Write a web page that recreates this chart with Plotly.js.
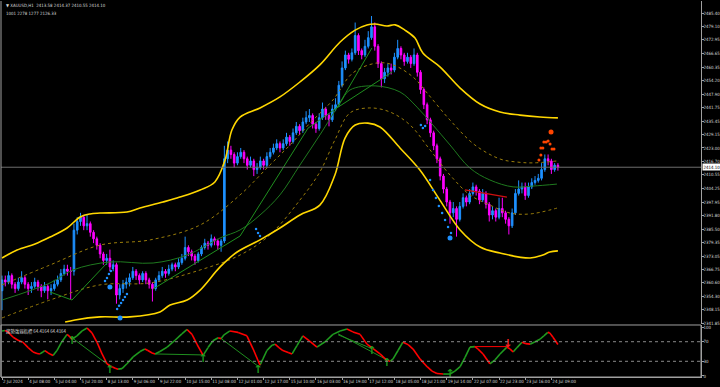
<!DOCTYPE html>
<html>
<head>
<meta charset="utf-8">
<script src="https://cdn.plot.ly/plotly-3.0.1.min.js"></script>
<style>
html,body{margin:0;padding:0;background:#000;}
#chart{width:720px;height:387px;}
</style>
</head>
<body>
<div id="chart"></div>
<script>
// ---------- DATA (H1 XAUUSD, one candle per 2 hours) ----------
const opens = [2357,2362,2361,2364,2360,2358,2361,2363,2360,2358,2359,2361,2359,2357,2359,2357,2358,2360,2362,2365,2367,2366,2366,2385,2389,2391,2387,2388,2384,2381,2378,2374,2371,2372,2368,2369,2355,2358,2360,2361,2363,2366,2364,2362,2365,2362,2360,2358,2362,2364,2366,2365,2367,2369,2368,2370,2372,2377,2375,2373,2371,2374,2377,2379,2378,2381,2380,2378,2380,2418,2422,2420,2416,2419,2421,2418,2415,2417,2413,2414,2417,2415,2419,2421,2423,2425,2423,2425,2428,2426,2430,2433,2431,2435,2437,2438,2434,2432,2437,2441,2438,2436,2441,2443,2452,2460,2466,2464,2467,2475,2468,2466,2470,2474,2479,2470,2462,2455,2458,2460,2459,2465,2469,2466,2463,2465,2462,2466,2458,2450,2443,2436,2430,2424,2418,2410,2404,2398,2393,2395,2390,2396,2400,2398,2402,2405,2403,2399,2402,2397,2392,2394,2391,2395,2393,2390,2387,2393,2402,2404,2405,2401,2405,2407,2408,2409,2413,2418,2417,2413,2415];
const highs = [2364,2364,2366,2365,2361,2363,2366,2364,2361,2361,2363,2362,2360,2361,2360,2360,2362,2364,2367,2369,2369,2368,2388,2391,2393,2392,2392,2389,2385,2382,2379,2375,2374,2376,2371,2370,2360,2362,2363,2365,2368,2367,2365,2366,2366,2363,2361,2363,2366,2368,2367,2369,2370,2370,2372,2374,2382,2378,2376,2374,2375,2378,2381,2380,2383,2382,2381,2381,2424,2426,2424,2421,2421,2423,2422,2419,2419,2418,2416,2419,2418,2421,2423,2425,2427,2426,2427,2430,2429,2432,2435,2434,2437,2440,2441,2439,2435,2439,2444,2442,2439,2443,2446,2454,2463,2468,2467,2469,2481,2476,2469,2473,2477,2484,2481,2471,2463,2460,2462,2462,2467,2473,2470,2467,2467,2466,2469,2467,2459,2451,2444,2437,2431,2425,2419,2411,2405,2399,2398,2396,2398,2402,2401,2404,2407,2406,2404,2404,2403,2398,2396,2395,2400,2400,2394,2391,2395,2404,2408,2407,2407,2407,2409,2410,2411,2416,2420,2420,2418,2416,2416];
const lows = [2348,2359,2360,2358,2356,2357,2360,2358,2355,2356,2358,2357,2354,2356,2353,2355,2357,2359,2361,2364,2364,2353,2364,2383,2387,2385,2385,2382,2379,2376,2372,2369,2369,2366,2366,2351,2353,2356,2358,2359,2362,2362,2360,2361,2360,2358,2352,2357,2361,2363,2363,2364,2366,2366,2367,2369,2371,2373,2371,2369,2370,2373,2376,2376,2377,2378,2376,2375,2379,2416,2418,2414,2415,2418,2416,2413,2414,2410,2411,2413,2413,2414,2418,2420,2422,2421,2422,2424,2424,2425,2429,2429,2430,2434,2435,2432,2430,2431,2436,2436,2433,2435,2440,2442,2451,2459,2462,2463,2466,2466,2464,2465,2469,2473,2468,2460,2451,2453,2456,2457,2458,2464,2464,2461,2462,2460,2461,2456,2448,2441,2434,2428,2422,2416,2408,2402,2396,2388,2391,2382,2389,2395,2396,2397,2401,2401,2397,2398,2395,2389,2390,2389,2390,2391,2388,2383,2386,2392,2401,2402,2399,2400,2404,2406,2407,2408,2412,2415,2411,2412,2412.5];
const closes = [2362,2361,2364,2360,2358,2361,2363,2360,2358,2359,2361,2359,2357,2359,2357,2358,2360,2362,2365,2367,2366,2366,2385,2389,2391,2387,2388,2384,2381,2378,2374,2371,2372,2368,2369,2355,2358,2360,2361,2363,2366,2364,2362,2365,2362,2360,2358,2362,2364,2366,2365,2367,2369,2368,2370,2372,2377,2375,2373,2371,2374,2377,2379,2378,2381,2380,2378,2380,2418,2422,2420,2416,2419,2421,2418,2415,2417,2413,2414,2417,2415,2419,2421,2423,2425,2423,2425,2428,2426,2430,2433,2431,2435,2437,2438,2434,2432,2437,2441,2438,2436,2441,2443,2452,2460,2466,2464,2467,2475,2468,2466,2470,2474,2479,2470,2462,2455,2458,2460,2459,2465,2469,2466,2463,2465,2462,2466,2458,2450,2443,2436,2430,2424,2418,2410,2404,2398,2393,2395,2390,2396,2400,2398,2402,2405,2403,2399,2402,2397,2392,2394,2391,2395,2393,2390,2387,2393,2402,2404,2405,2401,2405,2407,2408,2409,2413,2418,2417,2413,2415,2414.10];

// channel lines (x in candle index units)
const upperBandX = [0,4.6,10.1,14.7,19.9,23.9,26.9,30.0,38.2,42.2,49.2,54.4,60.6,65.1,68.2,70.3,72.8,78.9,85.0,91.1,97.2,103.4,108.0,111.6,114.1,117.7,120.2,123.2,126.3,128.7,134.0,140.1,146.2,152.3,158.4,164.5,170];
const upperBandY = [2372.1,2375.8,2378.6,2381.8,2386.0,2391.1,2392.5,2392.9,2393.4,2395.2,2398.0,2400.3,2403.6,2407.3,2417.4,2431.3,2437.3,2441.5,2446.6,2453.5,2461.4,2472.0,2477.5,2479.9,2480.3,2479.4,2479.9,2477.5,2473.8,2466.9,2460.4,2450.7,2443.3,2439.6,2438.2,2437.3,2436.9];
const lowerBandX = [19.3,22.3,30.0,39.1,48.3,51.4,56.6,60.6,66.7,71.9,78.9,85.0,91.1,97.2,101.8,104.9,108.0,111.9,115.6,121.7,127.8,133.9,140.1,146.2,152.3,161.5,165.4,167.5,170];
const lowerBandY = [2342.5,2343.5,2344.9,2344.9,2347.2,2350.4,2352.7,2357.3,2368.0,2374.9,2380.5,2386.0,2392.0,2396.6,2410.5,2427.6,2433.6,2434.5,2432.7,2423.0,2412.8,2398.9,2385.1,2377.2,2374.4,2372.1,2373.5,2374.9,2375.4];
const upperDotX = [0,14.7,30.0,45.3,60.6,72.8,81.9,88.1,94.2,101.2,107.3,114.7,119.6,125.7,130.0,137.0,144.6,152.3,157.5,162.4,169.7];
const upperDotY = [2359.7,2368.9,2378.1,2380.5,2387.4,2401.3,2415.1,2424.4,2434.5,2445.2,2457.7,2462.3,2461.4,2455.8,2448.4,2435.9,2424.4,2417.9,2416.5,2416.1,2417.0];
const lowerDotX = [0,14.7,30.0,45.3,60.6,72.8,81.9,91.1,97.2,101.8,106.4,112.5,118.7,124.8,130.9,137.0,143.1,149.2,155.4,161.5,169.7];
const lowerDotY = [2344.4,2352.7,2359.7,2360.6,2366.6,2373.5,2382.8,2398.9,2411.9,2426.7,2439.2,2441.5,2439.6,2433.6,2422.1,2410.5,2401.3,2396.6,2392.9,2392.5,2395.2];
const midLineX = [0,14.7,21.7,33.0,46.2,56.6,66.7,72.8,78.9,85.0,91.1,97.2,103.4,106.4,114.1,121.7,126.9,131.8,137.0,143.1,149.2,156.3,162.4,169.7];
const midLineY = [2352.7,2360.6,2366.6,2370.3,2369.8,2373.5,2381.4,2385.1,2392.0,2401.3,2415.1,2429.0,2443.8,2449.8,2451.7,2448.9,2441.9,2433.6,2424.4,2413.7,2408.2,2405.0,2405.4,2406.3];
// zigzag trend segments (null separates segments)
const zigX = [14.7,21.4,32.1,null,46.2,72.8,93.6,102.4,113.1,null,102.4,119.3];
const zigY = [2356.4,2352.7,2369.8,null,2357.8,2382.3,2432.2,2441.5,2469.2,null,2441.5,2458.1];
const redSegX = [141.6,154.4];
const redSegY = [2403.6,2400.3];
// signal dots
const blueDotX = [31.5,32.1,32.7,33.3,33.9,35.2,35.8,36.4,37.0,37.6,38.2,77.7,78.3,78.9,128.1,128.7,129.4,130.9,131.8,132.7,133.6,134.6,135.5,136.4,137.3];
const blueDotY = [2361.5,2362.9,2364.7,2366.1,2367.5,2348.6,2350.0,2351.3,2352.7,2354.1,2355.5,2385.5,2383.7,2382.3,2433.6,2432.2,2433.1,2408.2,2403.6,2399.9,2396.2,2392.9,2389.7,2386.5,2383.7];
const bigBlueX = [33.0,36.1,137.0];
const bigBlueY = [2358.7,2344.4,2381.4];
const orangeDotX = [164.2,164.8,164.8,165.4,165.7,166.4,167.0,167.6,168.2,168.8];
const orangeDotY = [2417.4,2419.7,2423.0,2423.0,2425.8,2425.8,2426.2,2424.8,2422.5,2422.5];
const bigOrangeX = [167.9];
const bigOrangeY = [2430.4];

// oscillator (0-100)
const oscX = [0,0.9,1.8,3.4,4.9,6.4,8.0,9.5,10.7,11.6,12.5,13.1,14.1,14.7,15.6,16.8,18.3,19.9,20.8,21.4,22.9,24.5,26.0,27.5,29.1,30.6,32.1,33.3,34.6,35.5,36.7,38.2,40.1,42.2,43.7,44.6,45.9,46.8,48.3,50.5,52.9,55.0,56.6,58.1,59.6,61.5,63.0,64.5,66.1,67.0,67.9,69.7,72.2,74.9,76.8,78.9,79.8,81.0,82.6,83.5,84.7,85.9,87.5,88.7,90.2,92.0,93.9,96.3,98.8,101.2,103.4,105.5,107.3,109.5,111.6,113.5,115.6,117.7,118.7,119.6,121.1,122.6,124.2,125.7,127.8,130.0,131.5,133.0,134.9,137.0,138.5,140.1,141.6,143.1,144.6,145.6,147.1,149.2,150.8,152.3,154.4,155.4,156.3,157.5,159.0,160.2,161.5,163.0,164.5,165.7,166.9,167.5,168.5,170];
const oscVals = [92,93,90,79,73,69,58,49,46,45,49,52,47,45,42,52,70,85,80,75,82,92,98,88,68,45,25,20,16,14,15,25,39,50,55,52,47,45,50,59,73,86,95,85,65,42,58,72,78,76,84,92,89,82,55,22,35,52,63,65,58,52,48,45,62,82,72,59,70,85,92,96,90,85,65,56,45,32,30,35,52,69,64,55,35,19,10,5,4,4,10,19,38,59,60,55,45,25,33,45,59,55,49,58,69,66,65,70,75,82,89,88,79,64.4164];
const divGreenX = [21.4,33.0,null,46.8,61.5,null,66.7,78.3,null,102.8,117.7,null,102.8,113.1];
const divGreenY = [78,20,null,45,43,null,78,20,null,86,33,null,84,56];
const divRedX = [143.1,154.7];
const divRedY = [60,60];
const upArrowX = [21.4,33.0,61.5,78.3,113.1,117.7,137.0];
const upArrowY = [70,12,35,12,50,25,3];
const downArrowX = [154.7];
const downArrowY = [64];

// axis labels
const xTickIdx = [0,8,16,24,32,40,48,56,64,72,80,88,96,104,112,120,128,136,144,152,160,168];
const xLabels = ["2 Jul 2024","4 Jul 08:00","5 Jul 04:00","5 Jul 20:00","8 Jul 13:00","9 Jul 06:00","9 Jul 22:00","10 Jul 15:00","11 Jul 08:00","12 Jul 01:00","12 Jul 17:00","15 Jul 10:00","16 Jul 03:00","16 Jul 19:00","17 Jul 12:00","18 Jul 05:00","18 Jul 21:00","19 Jul 14:00","22 Jul 07:00","22 Jul 23:00","23 Jul 16:00","24 Jul 09:00"];
const priceTicks = [2485.40,2479.10,2472.95,2466.65,2460.35,2454.20,2447.90,2441.75,2435.45,2429.15,2423.00,2416.70,2410.55,2404.25,2397.95,2391.80,2385.50,2379.35,2373.05,2366.75,2360.60,2354.30,2348.15,2341.85];
const oscTicks = [100,70,30,0];
const oscLevels = [70,30];

// ---------- BUILD ----------
const FONT = '"Liberation Sans Narrow","DejaVu Sans Condensed","Liberation Sans",sans-serif';
const TXT = '#d8d8d8';
const FS = 4.4;
const idx = closes.map((_, i) => i);
const lastClose = closes[closes.length - 1];

// split oscillator into rising (green) / falling (red) pieces
const gX = [], gY = [], rX = [], rY = [];
for (let j = 0; j < oscX.length - 1; j++) {
  const up = oscVals[j + 1] >= oscVals[j];
  const ax = up ? gX : rX, ay = up ? gY : rY;
  ax.push(oscX[j], oscX[j + 1], null);
  ay.push(oscVals[j], oscVals[j + 1], null);
}

const traces = [
  {type:'scatter', x:upperDotX, y:upperDotY, mode:'lines', line:{color:'#9a7d0a', width:1, dash:'dot', shape:'spline'}, hoverinfo:'skip'},
  {type:'scatter', x:lowerDotX, y:lowerDotY, mode:'lines', line:{color:'#9a7d0a', width:1, dash:'dot', shape:'spline'}, hoverinfo:'skip'},
  {type:'scatter', x:midLineX, y:midLineY, mode:'lines', line:{color:'#1f7a1f', width:1, shape:'spline'}, hoverinfo:'skip'},
  {type:'scatter', x:zigX, y:zigY, mode:'lines', line:{color:'#1f8f1f', width:1}, connectgaps:false, hoverinfo:'skip'},
  {type:'scatter', x:redSegX, y:redSegY, mode:'lines', line:{color:'#d01010', width:1.2}, hoverinfo:'skip'},
  {type:'scatter', x:upperBandX, y:upperBandY, mode:'lines', line:{color:'#ffd700', width:1.6, shape:'spline'}, hoverinfo:'skip'},
  {type:'scatter', x:lowerBandX, y:lowerBandY, mode:'lines', line:{color:'#ffd700', width:1.6, shape:'spline'}, hoverinfo:'skip'},
  {type:'candlestick', x:idx, open:opens, high:highs, low:lows, close:closes,
    increasing:{line:{color:'#1e90ff', width:1}, fillcolor:'#1e90ff'},
    decreasing:{line:{color:'#ff00ff', width:1}, fillcolor:'#ff00ff'},
    whiskerwidth:0, hoverinfo:'skip'},
  {type:'scatter', x:blueDotX, y:blueDotY, mode:'markers', marker:{color:'#1e90ff', size:2.5}, hoverinfo:'skip'},
  {type:'scatter', x:bigBlueX, y:bigBlueY, mode:'markers', marker:{color:'#1e90ff', size:5}, hoverinfo:'skip'},
  {type:'scatter', x:orangeDotX, y:orangeDotY, mode:'markers', marker:{color:'#ff4500', size:3}, hoverinfo:'skip'},
  {type:'scatter', x:bigOrangeX, y:bigOrangeY, mode:'markers', marker:{color:'#ff4500', size:5}, hoverinfo:'skip'},
  // oscillator
  {type:'scatter', x:divGreenX, y:divGreenY, yaxis:'y2', mode:'lines', line:{color:'#1f8f1f', width:1}, connectgaps:false, hoverinfo:'skip'},
  {type:'scatter', x:divRedX, y:divRedY, yaxis:'y2', mode:'lines', line:{color:'#ff0000', width:1}, hoverinfo:'skip'},
  {type:'scatter', x:gX, y:gY, yaxis:'y2', mode:'lines', line:{color:'#1f9a1f', width:1.6}, connectgaps:false, hoverinfo:'skip'},
  {type:'scatter', x:rX, y:rY, yaxis:'y2', mode:'lines', line:{color:'#ff0000', width:1.6}, connectgaps:false, hoverinfo:'skip'},
  {type:'scatter', x:upArrowX, y:upArrowY, yaxis:'y2', mode:'text', text:upArrowX.map(()=>'<b>↑</b>'), textfont:{color:'#1f9a1f', size:11, family:'DejaVu Sans'}, hoverinfo:'skip'},
  {type:'scatter', x:downArrowX, y:downArrowY, yaxis:'y2', mode:'text', text:downArrowX.map(()=>'<b>↓</b>'), textfont:{color:'#ff2020', size:11, family:'DejaVu Sans'}, hoverinfo:'skip'}
];

const shapes = [
  {type:'line', xref:'paper', yref:'y', x0:0, x1:1, y0:lastClose, y1:lastClose, line:{color:'#6e6e6e', width:1}},
  {type:'rect', xref:'paper', yref:'paper', x0:0, x1:1, y0:0, y1:0.1383, line:{color:'#a0a0a0', width:1}},
  {type:'line', xref:'paper', yref:'paper', x0:0, x1:0, y0:0, y1:1, line:{color:'#a0a0a0', width:1}}
];
oscLevels.forEach(v => shapes.push({type:'line', xref:'paper', yref:'y2', x0:0, x1:1, y0:v, y1:v, line:{color:'#8a8a8a', width:1, dash:'dot'}}));

const annotations = [
  {xref:'paper', yref:'paper', x:0.004, y:0.999, xanchor:'left', yanchor:'top', showarrow:false,
   text:'▼ XAUUSD,H1  2413.58 2414.37 2410.55 2414.10', font:{family:FONT, size:FS, color:TXT}},
  {xref:'paper', yref:'paper', x:0.004, y:0.978, xanchor:'left', yanchor:'top', showarrow:false,
   text:'1001 2278 1277 2126.33', font:{family:FONT, size:FS, color:TXT}},
  {xref:'paper', yref:'paper', x:0.004, y:0.136, xanchor:'left', yanchor:'top', showarrow:false,
   text:'趨勢強弱指標 64.4164 64.4164', font:{family:'"Noto Sans CJK TC",'+FONT, size:FS, color:TXT}},
  {xref:'paper', yref:'y', x:1.002, y:lastClose, xanchor:'left', yanchor:'middle', showarrow:false,
   text:lastClose.toFixed(2), bgcolor:'#ffffff', borderpad:0.5, font:{family:FONT, size:FS, color:'#000000'}}
];

const axisFont = {family:FONT, size:FS, color:TXT};
const layout = {
  width:720, height:387,
  paper_bgcolor:'#000000', plot_bgcolor:'#000000',
  margin:{l:1, r:19, t:1, b:10},
  showlegend:false,
  font:{family:FONT, size:FS, color:TXT},
  xaxis:{
    range:[-0.31, 213.76], anchor:'y2', showgrid:false, zeroline:false,
    tickmode:'array', tickvals:xTickIdx, ticktext:xLabels, tickangle:0,
    ticks:'outside', ticklen:2, tickcolor:'#a0a0a0',
    ticklabelposition:'outside right',
    tickfont:axisFont,
    showline:true, linecolor:'#a0a0a0', linewidth:1,
    rangeslider:{visible:false}, fixedrange:true
  },
  yaxis:{
    domain:[0.141, 1], range:[2341.62, 2490.95], side:'right', anchor:'x',
    showgrid:false, zeroline:false,
    tickmode:'array', tickvals:priceTicks, ticktext:priceTicks.map(v=>v.toFixed(2)),
    ticks:'outside', ticklen:1.5, tickcolor:'#a0a0a0', ticklabelstandoff:-1,
    tickfont:axisFont,
    showline:true, linecolor:'#a0a0a0', linewidth:1
  },
  yaxis2:{
    domain:[0, 0.1383], range:[-2.04, 104.1], side:'right', anchor:'x',
    showgrid:false, zeroline:false,
    tickmode:'array', tickvals:oscTicks, ticktext:oscTicks.map(String),
    ticks:'outside', ticklen:1.5, tickcolor:'#a0a0a0', ticklabelstandoff:-1,
    tickfont:axisFont,
    showline:true, linecolor:'#a0a0a0', linewidth:1
  },
  shapes:shapes,
  annotations:annotations
};

Plotly.newPlot('chart', traces, layout, {staticPlot:true, displayModeBar:false});
</script>
</body>
</html>
